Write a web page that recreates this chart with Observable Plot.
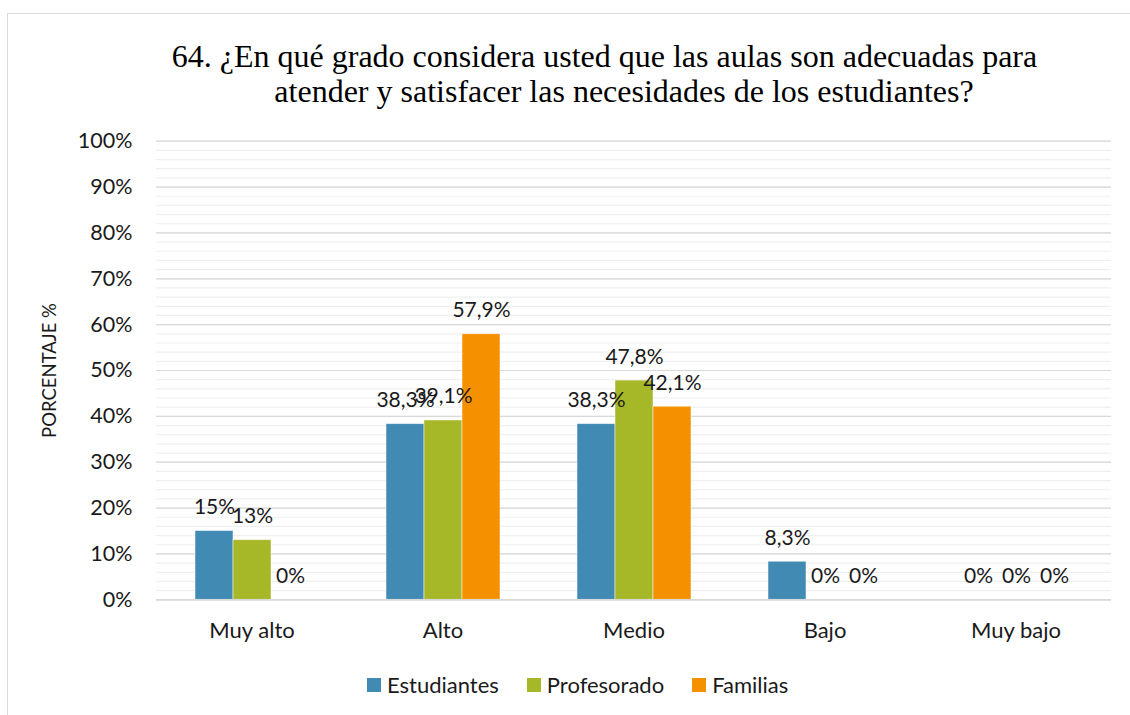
<!DOCTYPE html>
<html>
<head>
<meta charset="utf-8">
<script src="https://cdn.jsdelivr.net/npm/d3@7"></script>
<script src="https://cdn.jsdelivr.net/npm/@observablehq/plot@0.6"></script>
<style>
  html, body { margin: 0; padding: 0; background: #fff; overflow: hidden; }
  #page { position: relative; width: 1130px; height: 715px; overflow: hidden; font-family: Lato, sans-serif; color: #1a1a1a; }
  #frame { position: absolute; left: 7px; top: 13px; width: 1300px; height: 900px; border-left: 1.5px solid #d9d9d9; border-top: 1.5px solid #d9d9d9; box-sizing: border-box; }
  .title-line { position: absolute; white-space: nowrap; font-family: "Liberation Serif", "Times New Roman", serif; font-size: 32px; line-height: 35px; color: #000; transform: translateX(-50%); }
  #chart { position: absolute; left: 0; top: 120px; }
  #legend { position: absolute; left: 367px; top: 671px; display: flex; align-items: center; font-size: 22px; line-height: 28px; }
  #legend .item { display: flex; align-items: center; margin-right: 28px; }
  #legend .sw { width: 14px; height: 14px; margin-right: 6px; }
</style>
</head>
<body>
<div id="page">
  <div id="frame"></div>
  <div class="title-line" style="left:604.5px; top:39px;">64. ¿En qué grado considera usted que las aulas son adecuadas para</div>
  <div class="title-line" style="left:624px; top:74px;">atender y satisfacer las necesidades de los estudiantes?</div>
  <div id="chart"></div>
  <div id="legend"></div>
</div>
<script>
// Response categories and respondent groups
const categorias = ["Muy alto", "Alto", "Medio", "Bajo", "Muy bajo"];
const grupos = ["Estudiantes", "Profesorado", "Familias"];

// Percentage per category for each group
const estudiantes = [15, 38.3, 38.3, 8.3, 0];
const profesorado = [13, 39.1, 47.8, 0, 0];
const familias = [0, 57.9, 42.1, 0, 0];

const colores = ["#418ab3", "#a6b727", "#f59100"];
const yTicks = [0, 10, 20, 30, 40, 50, 60, 70, 80, 90, 100];
const yMinor = d3.range(0, 101, 2);

const valores = [estudiantes, profesorado, familias];
const datos = [];
categorias.forEach((c, i) => {
  grupos.forEach((g, j) => datos.push({categoria: c, grupo: g, valor: valores[j][i]}));
});

const pct = v => String(v).replace(".", ",") + "%";

const chart = Plot.plot({
  width: 1130,
  height: 545,
  marginTop: 20.7,
  marginBottom: 65.7,
  marginLeft: 155,
  marginRight: 18,
  style: {fontFamily: "Lato, sans-serif", fontSize: "21px", color: "#1a1a1a", background: "transparent", overflow: "visible"},
  fx: {domain: categorias, padding: 0, label: null},
  x: {domain: grupos, paddingInner: 0, paddingOuter: 1, axis: null},
  y: {domain: [0, 100], label: null},
  color: {domain: grupos, range: colores},
  marks: [
    Plot.gridY(yMinor, {stroke: "#efefef", strokeOpacity: 1, strokeWidth: 1.2}),
    Plot.gridY(yTicks, {stroke: "#d9d9d9", strokeOpacity: 1, strokeWidth: 1.2}),
    Plot.axisY({ticks: yTicks, tickSize: 0, tickPadding: 24, tickFormat: d => d + "%", fontSize: 21.5, label: null}),
    Plot.axisY({ticks: [], label: "PORCENTAJE %", labelAnchor: "center", labelArrow: "none", labelOffset: 114, fontSize: 18.5}),
    Plot.axisFx({anchor: "bottom", tickSize: 0, tickPadding: 23, fontSize: 22, label: null}),
    Plot.barY(datos.filter(d => d.valor > 0), {
      fx: "categoria", x: "grupo", y: "valor", fill: "grupo",
      stroke: "#fff", strokeOpacity: 0.6, strokeWidth: 0.8
    }),
    Plot.ruleY([0], {stroke: "#d9d9d9", strokeWidth: 1.6}),
    Plot.text(datos, {
      fx: "categoria", x: "grupo", y: "valor", text: d => pct(d.valor),
      lineAnchor: "bottom", dy: -17, fontSize: 21, fill: "#1a1a1a"
    })
  ]
});
document.getElementById("chart").appendChild(chart);

// Legend built from the same color scale
const color = chart.scale("color");
const legend = d3.select("#legend");
color.domain.forEach((g, i) => {
  const item = legend.append("div").attr("class", "item");
  item.append("div").attr("class", "sw").style("background", color.range[i]);
  item.append("span").text(g);
});
</script>
</body>
</html>
